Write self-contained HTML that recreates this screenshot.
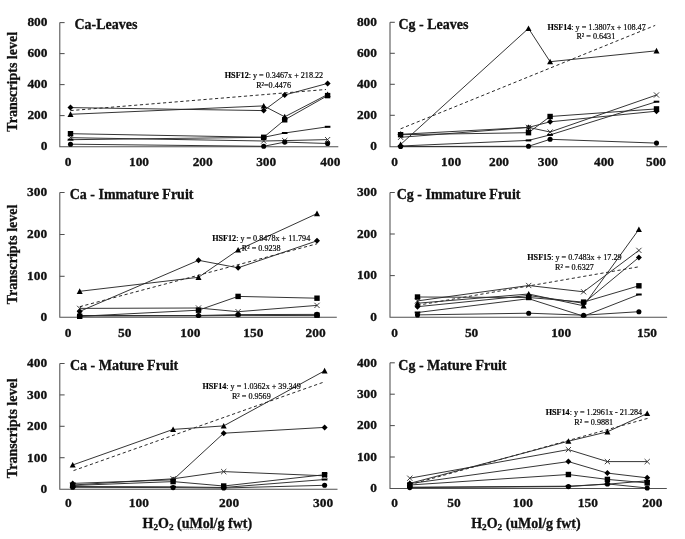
<!DOCTYPE html>
<html><head><meta charset="utf-8"><title>Figure</title>
<style>
html,body{margin:0;padding:0;background:#fff;}
body{width:685px;height:539px;overflow:hidden;}
svg{display:block;}
text{font-family:"Liberation Serif","Times New Roman",serif;fill:#111;}
.b13{font-size:13.4px;font-weight:bold;stroke:#111;stroke-width:0.3px;}
.b14{font-size:14px;font-weight:bold;stroke:#111;stroke-width:0.3px;}
.sub{font-size:9.2px;}
.eq{font-size:8.15px;fill:#000;stroke:#000;stroke-width:0.18px;}
</style></head><body>
<svg width="685" height="539" viewBox="0 0 685 539">
<rect width="685" height="539" fill="#fff"/>
<path d="M59.8 22.6V146.8H338.3" fill="none" stroke="#505050" stroke-width="1.05"/>
<path d="M59.8 22.6h4.8" stroke="#505050" stroke-width="1.05"/>
<path d="M59.8 53.6h4.8" stroke="#505050" stroke-width="1.05"/>
<path d="M59.8 84.6h4.8" stroke="#505050" stroke-width="1.05"/>
<path d="M59.8 115.6h4.8" stroke="#505050" stroke-width="1.05"/>
<text x="47.5" y="26.4" text-anchor="end" class="b13">800</text>
<text x="47.5" y="57.4" text-anchor="end" class="b13">600</text>
<text x="47.5" y="88.4" text-anchor="end" class="b13">400</text>
<text x="47.5" y="119.4" text-anchor="end" class="b13">200</text>
<text x="47.5" y="150.4" text-anchor="end" class="b13">0</text>
<text x="68" y="165.8" text-anchor="middle" class="b13">0</text>
<text x="139" y="165.8" text-anchor="middle" class="b13">100</text>
<text x="202.7" y="165.8" text-anchor="middle" class="b13">200</text>
<text x="266.2" y="165.8" text-anchor="middle" class="b13">300</text>
<text x="330.3" y="165.8" text-anchor="middle" class="b13">400</text>
<text x="74.4" y="29" class="b14">Ca-Leaves</text>
<text transform="translate(16.7 81.8) rotate(-90)" text-anchor="middle" class="b14">Transcripts level</text>
<path d="M70.5 110.6L326 89.5" stroke="#2a2a2a" stroke-width="1" stroke-dasharray="3.2 2.6" fill="none"/>
<polyline points="70.5,107.6 263.7,110.6 284.7,95.0 327.6,83.4" fill="none" stroke="#2a2a2a" stroke-width="0.95"/>
<path d="M70.5 104.6L73.5 107.6L70.5 110.6L67.5 107.6Z" fill="#000"/>
<path d="M263.7 107.6L266.7 110.6L263.7 113.6L260.7 110.6Z" fill="#000"/>
<path d="M284.7 92.0L287.7 95.0L284.7 98.0L281.7 95.0Z" fill="#000"/>
<path d="M327.6 80.4L330.6 83.4L327.6 86.4L324.6 83.4Z" fill="#000"/>
<polyline points="70.5,114.3 263.7,105.9 284.7,116.8 327.6,94.5" fill="none" stroke="#2a2a2a" stroke-width="0.95"/>
<path d="M70.5 111.3L73.5 116.9L67.5 116.9Z" fill="#000"/>
<path d="M263.7 102.9L266.7 108.5L260.7 108.5Z" fill="#000"/>
<path d="M284.7 113.8L287.7 119.4L281.7 119.4Z" fill="#000"/>
<path d="M327.6 91.5L330.6 97.1L324.6 97.1Z" fill="#000"/>
<polyline points="70.5,137.7 263.7,141.0 284.7,140.6 327.6,139.6" fill="none" stroke="#2a2a2a" stroke-width="0.95"/>
<path d="M67.9 135.1L73.1 140.3M67.9 140.3L73.1 135.1" stroke="#2a2a2a" stroke-width="0.9" fill="none"/>
<path d="M261.1 138.4L266.3 143.6M261.1 143.6L266.3 138.4" stroke="#2a2a2a" stroke-width="0.9" fill="none"/>
<path d="M282.1 138.0L287.3 143.2M282.1 143.2L287.3 138.0" stroke="#2a2a2a" stroke-width="0.9" fill="none"/>
<path d="M325.0 137.0L330.2 142.2M325.0 142.2L330.2 137.0" stroke="#2a2a2a" stroke-width="0.9" fill="none"/>
<polyline points="70.5,139.7 263.7,137.3 284.7,133.0 327.6,126.8" fill="none" stroke="#2a2a2a" stroke-width="0.95"/>
<rect x="67.7" y="138.7" width="5.6" height="2" fill="#000"/>
<rect x="260.9" y="136.3" width="5.6" height="2" fill="#000"/>
<rect x="281.9" y="132.0" width="5.6" height="2" fill="#000"/>
<rect x="324.8" y="125.8" width="5.6" height="2" fill="#000"/>
<polyline points="70.5,144.2 263.7,146.3 284.7,142.1 327.6,143.5" fill="none" stroke="#2a2a2a" stroke-width="0.95"/>
<circle cx="70.5" cy="144.2" r="2.55" fill="#000"/>
<circle cx="263.7" cy="146.3" r="2.55" fill="#000"/>
<circle cx="284.7" cy="142.1" r="2.55" fill="#000"/>
<circle cx="327.6" cy="143.5" r="2.55" fill="#000"/>
<polyline points="70.5,133.7 263.7,137.3 284.7,119.8 327.6,95.6" fill="none" stroke="#2a2a2a" stroke-width="0.95"/>
<rect x="67.8" y="131.0" width="5.4" height="5.4" fill="#000"/>
<rect x="261.0" y="134.6" width="5.4" height="5.4" fill="#000"/>
<rect x="282.0" y="117.1" width="5.4" height="5.4" fill="#000"/>
<rect x="324.9" y="92.9" width="5.4" height="5.4" fill="#000"/>
<text x="224.8" y="78.1" class="eq"><tspan font-weight="bold">HSF12</tspan>: y = 0.3467x + 218.22</text>
<text x="256.2" y="88.2" class="eq">R²=0.4476</text>
<path d="M390 22.3V146.8H667.1" fill="none" stroke="#505050" stroke-width="1.05"/>
<path d="M390 22.3h4.8" stroke="#505050" stroke-width="1.05"/>
<path d="M390 53.3h4.8" stroke="#505050" stroke-width="1.05"/>
<path d="M390 84.3h4.8" stroke="#505050" stroke-width="1.05"/>
<path d="M390 115.3h4.8" stroke="#505050" stroke-width="1.05"/>
<text x="377" y="26.1" text-anchor="end" class="b13">800</text>
<text x="377" y="57.1" text-anchor="end" class="b13">600</text>
<text x="377" y="88.1" text-anchor="end" class="b13">400</text>
<text x="377" y="119.1" text-anchor="end" class="b13">200</text>
<text x="377" y="150.4" text-anchor="end" class="b13">0</text>
<text x="394.7" y="166.3" text-anchor="middle" class="b13">0</text>
<text x="451.1" y="166.3" text-anchor="middle" class="b13">100</text>
<text x="499" y="166.3" text-anchor="middle" class="b13">200</text>
<text x="547.9" y="166.3" text-anchor="middle" class="b13">300</text>
<text x="604" y="166.3" text-anchor="middle" class="b13">400</text>
<text x="656" y="166.3" text-anchor="middle" class="b13">500</text>
<text x="398.5" y="28.6" class="b14">Cg - Leaves</text>
<path d="M400.6 128.8L655.2 25.4" stroke="#2a2a2a" stroke-width="1" stroke-dasharray="3.2 2.6" fill="none"/>
<polyline points="400.6,134.3 528.5,127.4 550.1,121.8 656.5,111.2" fill="none" stroke="#2a2a2a" stroke-width="0.95"/>
<path d="M400.6 131.3L403.6 134.3L400.6 137.3L397.6 134.3Z" fill="#000"/>
<path d="M528.5 124.4L531.5 127.4L528.5 130.4L525.5 127.4Z" fill="#000"/>
<path d="M550.1 118.8L553.1 121.8L550.1 124.8L547.1 121.8Z" fill="#000"/>
<path d="M656.5 108.2L659.5 111.2L656.5 114.2L653.5 111.2Z" fill="#000"/>
<polyline points="400.6,144.5 528.5,28.4 550.1,61.7 656.5,50.8" fill="none" stroke="#2a2a2a" stroke-width="0.95"/>
<path d="M400.6 141.5L403.6 147.1L397.6 147.1Z" fill="#000"/>
<path d="M528.5 25.4L531.5 31.0L525.5 31.0Z" fill="#000"/>
<path d="M550.1 58.7L553.1 64.3L547.1 64.3Z" fill="#000"/>
<path d="M656.5 47.8L659.5 53.4L653.5 53.4Z" fill="#000"/>
<polyline points="400.6,137.3 528.5,127.4 550.1,132.0 656.5,95.0" fill="none" stroke="#2a2a2a" stroke-width="0.95"/>
<path d="M398.0 134.7L403.2 139.9M398.0 139.9L403.2 134.7" stroke="#2a2a2a" stroke-width="0.9" fill="none"/>
<path d="M525.9 124.8L531.1 130.0M525.9 130.0L531.1 124.8" stroke="#2a2a2a" stroke-width="0.9" fill="none"/>
<path d="M547.5 129.4L552.7 134.6M547.5 134.6L552.7 129.4" stroke="#2a2a2a" stroke-width="0.9" fill="none"/>
<path d="M653.9 92.4L659.1 97.6M653.9 97.6L659.1 92.4" stroke="#2a2a2a" stroke-width="0.9" fill="none"/>
<polyline points="400.6,146.0 528.5,140.4 550.1,134.9 656.5,101.7" fill="none" stroke="#2a2a2a" stroke-width="0.95"/>
<rect x="397.8" y="145.0" width="5.6" height="2" fill="#000"/>
<rect x="525.7" y="139.4" width="5.6" height="2" fill="#000"/>
<rect x="547.3" y="133.9" width="5.6" height="2" fill="#000"/>
<rect x="653.7" y="100.7" width="5.6" height="2" fill="#000"/>
<polyline points="400.6,146.5 528.5,146.3 550.1,139.3 656.5,143.1" fill="none" stroke="#2a2a2a" stroke-width="0.95"/>
<circle cx="400.6" cy="146.5" r="2.55" fill="#000"/>
<circle cx="528.5" cy="146.3" r="2.55" fill="#000"/>
<circle cx="550.1" cy="139.3" r="2.55" fill="#000"/>
<circle cx="656.5" cy="143.1" r="2.55" fill="#000"/>
<polyline points="400.6,134.7 528.5,132.7 550.1,116.5 656.5,108.9" fill="none" stroke="#2a2a2a" stroke-width="0.95"/>
<rect x="397.9" y="132.0" width="5.4" height="5.4" fill="#000"/>
<rect x="525.8" y="130.0" width="5.4" height="5.4" fill="#000"/>
<rect x="547.4" y="113.8" width="5.4" height="5.4" fill="#000"/>
<rect x="653.8" y="106.2" width="5.4" height="5.4" fill="#000"/>
<text x="547.4" y="29.6" class="eq"><tspan font-weight="bold">HSF14</tspan>: y = 1.3807x + 108.47</text>
<text x="576.4" y="39.4" class="eq">R² = 0.6431</text>
<path d="M59.8 192.5V317.3H336.8" fill="none" stroke="#505050" stroke-width="1.05"/>
<path d="M59.8 192.5h4.8" stroke="#505050" stroke-width="1.05"/>
<path d="M59.8 234.5h4.8" stroke="#505050" stroke-width="1.05"/>
<path d="M59.8 276.3h4.8" stroke="#505050" stroke-width="1.05"/>
<text x="47.2" y="196.3" text-anchor="end" class="b13">300</text>
<text x="47.2" y="238.3" text-anchor="end" class="b13">200</text>
<text x="47.2" y="280.1" text-anchor="end" class="b13">100</text>
<text x="47.2" y="321.2" text-anchor="end" class="b13">0</text>
<text x="68" y="337.2" text-anchor="middle" class="b13">0</text>
<text x="124.7" y="337.2" text-anchor="middle" class="b13">50</text>
<text x="190.4" y="337.2" text-anchor="middle" class="b13">100</text>
<text x="253.3" y="337.2" text-anchor="middle" class="b13">150</text>
<text x="315.6" y="337.2" text-anchor="middle" class="b13">200</text>
<text x="69.7" y="199" class="b14">Ca - Immature Fruit</text>
<text transform="translate(16.7 254.4) rotate(-90)" text-anchor="middle" class="b14">Transcripts level</text>
<path d="M79.7 306.7L317 243.8" stroke="#2a2a2a" stroke-width="1" stroke-dasharray="3.2 2.6" fill="none"/>
<polyline points="79.7,311.4 198.5,260.3 238.1,267.8 317.0,240.8" fill="none" stroke="#2a2a2a" stroke-width="0.95"/>
<path d="M79.7 308.4L82.7 311.4L79.7 314.4L76.7 311.4Z" fill="#000"/>
<path d="M198.5 257.3L201.5 260.3L198.5 263.3L195.5 260.3Z" fill="#000"/>
<path d="M238.1 264.8L241.1 267.8L238.1 270.8L235.1 267.8Z" fill="#000"/>
<path d="M317.0 237.8L320.0 240.8L317.0 243.8L314.0 240.8Z" fill="#000"/>
<polyline points="79.7,291.3 198.5,277.3 238.1,250.0 317.0,213.6" fill="none" stroke="#2a2a2a" stroke-width="0.95"/>
<path d="M79.7 288.3L82.7 293.9L76.7 293.9Z" fill="#000"/>
<path d="M198.5 274.3L201.5 279.9L195.5 279.9Z" fill="#000"/>
<path d="M238.1 247.0L241.1 252.6L235.1 252.6Z" fill="#000"/>
<path d="M317.0 210.6L320.0 216.2L314.0 216.2Z" fill="#000"/>
<polyline points="79.7,308.4 198.5,308.0 238.1,311.7 317.0,305.4" fill="none" stroke="#2a2a2a" stroke-width="0.95"/>
<path d="M77.1 305.8L82.3 311.0M77.1 311.0L82.3 305.8" stroke="#2a2a2a" stroke-width="0.9" fill="none"/>
<path d="M195.9 305.4L201.1 310.6M195.9 310.6L201.1 305.4" stroke="#2a2a2a" stroke-width="0.9" fill="none"/>
<path d="M235.5 309.1L240.7 314.3M235.5 314.3L240.7 309.1" stroke="#2a2a2a" stroke-width="0.9" fill="none"/>
<path d="M314.4 302.8L319.6 308.0M314.4 308.0L319.6 302.8" stroke="#2a2a2a" stroke-width="0.9" fill="none"/>
<polyline points="79.7,316.0 198.5,315.8 238.1,315.4 317.0,315.6" fill="none" stroke="#2a2a2a" stroke-width="0.95"/>
<rect x="76.9" y="315.0" width="5.6" height="2" fill="#000"/>
<rect x="195.7" y="314.8" width="5.6" height="2" fill="#000"/>
<rect x="235.3" y="314.4" width="5.6" height="2" fill="#000"/>
<rect x="314.2" y="314.6" width="5.6" height="2" fill="#000"/>
<polyline points="79.7,315.5 198.5,315.5 238.1,314.6 317.0,314.4" fill="none" stroke="#2a2a2a" stroke-width="0.95"/>
<circle cx="79.7" cy="315.5" r="2.55" fill="#000"/>
<circle cx="198.5" cy="315.5" r="2.55" fill="#000"/>
<circle cx="238.1" cy="314.6" r="2.55" fill="#000"/>
<circle cx="317.0" cy="314.4" r="2.55" fill="#000"/>
<polyline points="79.7,316.3 198.5,310.2 238.1,296.4 317.0,298.2" fill="none" stroke="#2a2a2a" stroke-width="0.95"/>
<rect x="77.0" y="313.6" width="5.4" height="5.4" fill="#000"/>
<rect x="195.8" y="307.5" width="5.4" height="5.4" fill="#000"/>
<rect x="235.4" y="293.7" width="5.4" height="5.4" fill="#000"/>
<rect x="314.3" y="295.5" width="5.4" height="5.4" fill="#000"/>
<rect x="314.3" y="312.5" width="5.4" height="5.4" fill="#000"/>
<text x="212.2" y="240.6" class="eq"><tspan font-weight="bold">HSF12</tspan>: y = 0.8478x + 11.794</text>
<text x="241.8" y="250.8" class="eq">R² = 0.9238</text>
<path d="M390 192.5V317.3H667.1" fill="none" stroke="#505050" stroke-width="1.05"/>
<path d="M390 192.5h4.8" stroke="#505050" stroke-width="1.05"/>
<path d="M390 234.0h4.8" stroke="#505050" stroke-width="1.05"/>
<path d="M390 275.6h4.8" stroke="#505050" stroke-width="1.05"/>
<text x="377" y="196.3" text-anchor="end" class="b13">300</text>
<text x="377" y="237.8" text-anchor="end" class="b13">200</text>
<text x="377" y="279.4" text-anchor="end" class="b13">100</text>
<text x="377" y="321.0" text-anchor="end" class="b13">0</text>
<text x="394.7" y="336.5" text-anchor="middle" class="b13">0</text>
<text x="471.6" y="336.5" text-anchor="middle" class="b13">50</text>
<text x="561.2" y="336.5" text-anchor="middle" class="b13">100</text>
<text x="647" y="336.5" text-anchor="middle" class="b13">150</text>
<text x="396.7" y="198.7" class="b14">Cg - Immature Fruit</text>
<path d="M417.5 305.3L640 266.6" stroke="#2a2a2a" stroke-width="1" stroke-dasharray="3.2 2.6" fill="none"/>
<polyline points="417.5,306.7 528.7,295.5 583.6,303.2 638.9,257.4" fill="none" stroke="#2a2a2a" stroke-width="0.95"/>
<path d="M417.5 303.7L420.5 306.7L417.5 309.7L414.5 306.7Z" fill="#000"/>
<path d="M528.7 292.5L531.7 295.5L528.7 298.5L525.7 295.5Z" fill="#000"/>
<path d="M583.6 300.2L586.6 303.2L583.6 306.2L580.6 303.2Z" fill="#000"/>
<path d="M638.9 254.4L641.9 257.4L638.9 260.4L635.9 257.4Z" fill="#000"/>
<polyline points="417.5,303.2 528.7,294.0 583.6,305.8 638.9,229.4" fill="none" stroke="#2a2a2a" stroke-width="0.95"/>
<path d="M417.5 300.2L420.5 305.8L414.5 305.8Z" fill="#000"/>
<path d="M528.7 291.0L531.7 296.6L525.7 296.6Z" fill="#000"/>
<path d="M583.6 302.8L586.6 308.4L580.6 308.4Z" fill="#000"/>
<path d="M638.9 226.4L641.9 232.0L635.9 232.0Z" fill="#000"/>
<polyline points="417.5,300.9 528.7,285.5 583.6,291.8 638.9,250.4" fill="none" stroke="#2a2a2a" stroke-width="0.95"/>
<path d="M414.9 298.3L420.1 303.5M414.9 303.5L420.1 298.3" stroke="#2a2a2a" stroke-width="0.9" fill="none"/>
<path d="M526.1 282.9L531.3 288.1M526.1 288.1L531.3 282.9" stroke="#2a2a2a" stroke-width="0.9" fill="none"/>
<path d="M581.0 289.2L586.2 294.4M581.0 294.4L586.2 289.2" stroke="#2a2a2a" stroke-width="0.9" fill="none"/>
<path d="M636.3 247.8L641.5 253.0M636.3 253.0L641.5 247.8" stroke="#2a2a2a" stroke-width="0.9" fill="none"/>
<polyline points="417.5,312.5 528.7,298.7 583.6,316.2 638.9,294.5" fill="none" stroke="#2a2a2a" stroke-width="0.95"/>
<rect x="414.7" y="311.5" width="5.6" height="2" fill="#000"/>
<rect x="525.9" y="297.7" width="5.6" height="2" fill="#000"/>
<rect x="580.8" y="315.2" width="5.6" height="2" fill="#000"/>
<rect x="636.1" y="293.5" width="5.6" height="2" fill="#000"/>
<polyline points="417.5,314.9 528.7,313.2 583.6,315.2 638.9,311.7" fill="none" stroke="#2a2a2a" stroke-width="0.95"/>
<circle cx="417.5" cy="314.9" r="2.55" fill="#000"/>
<circle cx="528.7" cy="313.2" r="2.55" fill="#000"/>
<circle cx="583.6" cy="315.2" r="2.55" fill="#000"/>
<circle cx="638.9" cy="311.7" r="2.55" fill="#000"/>
<polyline points="417.5,297.0 528.7,297.5 583.6,302.1 638.9,285.8" fill="none" stroke="#2a2a2a" stroke-width="0.95"/>
<rect x="414.8" y="294.3" width="5.4" height="5.4" fill="#000"/>
<rect x="526.0" y="294.8" width="5.4" height="5.4" fill="#000"/>
<rect x="580.9" y="299.4" width="5.4" height="5.4" fill="#000"/>
<rect x="636.2" y="283.1" width="5.4" height="5.4" fill="#000"/>
<text x="527.3" y="260.1" class="eq"><tspan font-weight="bold">HSF15</tspan>: y = 0.7483x + 17.29</text>
<text x="555" y="270" class="eq">R² = 0.6327</text>
<path d="M59.8 363.5V489.2H337.5" fill="none" stroke="#505050" stroke-width="1.05"/>
<path d="M59.8 363.5h4.8" stroke="#505050" stroke-width="1.05"/>
<path d="M59.8 394.9h4.8" stroke="#505050" stroke-width="1.05"/>
<path d="M59.8 426.3h4.8" stroke="#505050" stroke-width="1.05"/>
<path d="M59.8 457.7h4.8" stroke="#505050" stroke-width="1.05"/>
<text x="47.2" y="367.3" text-anchor="end" class="b13">400</text>
<text x="47.2" y="398.7" text-anchor="end" class="b13">300</text>
<text x="47.2" y="430.1" text-anchor="end" class="b13">200</text>
<text x="47.2" y="461.5" text-anchor="end" class="b13">100</text>
<text x="47.2" y="492.9" text-anchor="end" class="b13">0</text>
<text x="68.3" y="507.3" text-anchor="middle" class="b13">0</text>
<text x="138.9" y="507.3" text-anchor="middle" class="b13">100</text>
<text x="229.1" y="507.3" text-anchor="middle" class="b13">200</text>
<text x="323.1" y="507.3" text-anchor="middle" class="b13">300</text>
<text x="70" y="370.1" class="b14">Ca - Mature Fruit</text>
<text transform="translate(16.7 428.3) rotate(-90)" text-anchor="middle" class="b14">Transcripts level</text>
<path d="M73.5 470.6L324.9 381.7" stroke="#2a2a2a" stroke-width="1" stroke-dasharray="3.2 2.6" fill="none"/>
<polyline points="72.7,483.4 173.1,479.8 223.7,433.2 324.6,427.4" fill="none" stroke="#2a2a2a" stroke-width="0.95"/>
<path d="M72.7 480.4L75.7 483.4L72.7 486.4L69.7 483.4Z" fill="#000"/>
<path d="M173.1 476.8L176.1 479.8L173.1 482.8L170.1 479.8Z" fill="#000"/>
<path d="M223.7 430.2L226.7 433.2L223.7 436.2L220.7 433.2Z" fill="#000"/>
<path d="M324.6 424.4L327.6 427.4L324.6 430.4L321.6 427.4Z" fill="#000"/>
<polyline points="72.7,465.0 173.1,429.4 223.7,425.9 324.6,370.8" fill="none" stroke="#2a2a2a" stroke-width="0.95"/>
<path d="M72.7 462.0L75.7 467.6L69.7 467.6Z" fill="#000"/>
<path d="M173.1 426.4L176.1 432.0L170.1 432.0Z" fill="#000"/>
<path d="M223.7 422.9L226.7 428.5L220.7 428.5Z" fill="#000"/>
<path d="M324.6 367.8L327.6 373.4L321.6 373.4Z" fill="#000"/>
<polyline points="72.7,485.0 173.1,478.8 223.7,471.6 324.6,475.8" fill="none" stroke="#2a2a2a" stroke-width="0.95"/>
<path d="M70.1 482.4L75.3 487.6M70.1 487.6L75.3 482.4" stroke="#2a2a2a" stroke-width="0.9" fill="none"/>
<path d="M170.5 476.2L175.7 481.4M170.5 481.4L175.7 476.2" stroke="#2a2a2a" stroke-width="0.9" fill="none"/>
<path d="M221.1 469.0L226.3 474.2M221.1 474.2L226.3 469.0" stroke="#2a2a2a" stroke-width="0.9" fill="none"/>
<path d="M322.0 473.2L327.2 478.4M322.0 478.4L327.2 473.2" stroke="#2a2a2a" stroke-width="0.9" fill="none"/>
<polyline points="72.7,486.5 173.1,486.8 223.7,487.5 324.6,479.5" fill="none" stroke="#2a2a2a" stroke-width="0.95"/>
<rect x="69.9" y="485.5" width="5.6" height="2" fill="#000"/>
<rect x="170.3" y="485.8" width="5.6" height="2" fill="#000"/>
<rect x="220.9" y="486.5" width="5.6" height="2" fill="#000"/>
<rect x="321.8" y="478.5" width="5.6" height="2" fill="#000"/>
<polyline points="72.7,487.3 173.1,487.6 223.7,488.0 324.6,485.3" fill="none" stroke="#2a2a2a" stroke-width="0.95"/>
<circle cx="72.7" cy="487.3" r="2.55" fill="#000"/>
<circle cx="173.1" cy="487.6" r="2.55" fill="#000"/>
<circle cx="223.7" cy="488.0" r="2.55" fill="#000"/>
<circle cx="324.6" cy="485.3" r="2.55" fill="#000"/>
<polyline points="72.7,485.5 173.1,481.6 223.7,486.0 324.6,474.7" fill="none" stroke="#2a2a2a" stroke-width="0.95"/>
<rect x="70.0" y="482.8" width="5.4" height="5.4" fill="#000"/>
<rect x="170.4" y="478.9" width="5.4" height="5.4" fill="#000"/>
<rect x="221.0" y="483.3" width="5.4" height="5.4" fill="#000"/>
<rect x="321.9" y="472.0" width="5.4" height="5.4" fill="#000"/>
<text x="202.4" y="389" class="eq"><tspan font-weight="bold">HSF14</tspan>: y = 1.0362x + 39.349</text>
<text x="231.9" y="399" class="eq">R² = 0.9569</text>
<path d="M390 362.8V488.4H666.8" fill="none" stroke="#505050" stroke-width="1.05"/>
<path d="M390 362.8h4.8" stroke="#505050" stroke-width="1.05"/>
<path d="M390 394.2h4.8" stroke="#505050" stroke-width="1.05"/>
<path d="M390 425.6h4.8" stroke="#505050" stroke-width="1.05"/>
<path d="M390 457.0h4.8" stroke="#505050" stroke-width="1.05"/>
<text x="377" y="366.6" text-anchor="end" class="b13">400</text>
<text x="377" y="398.0" text-anchor="end" class="b13">300</text>
<text x="377" y="429.4" text-anchor="end" class="b13">200</text>
<text x="377" y="460.8" text-anchor="end" class="b13">100</text>
<text x="377" y="492.2" text-anchor="end" class="b13">0</text>
<text x="394.7" y="507.3" text-anchor="middle" class="b13">0</text>
<text x="454" y="507.3" text-anchor="middle" class="b13">50</text>
<text x="522.8" y="507.3" text-anchor="middle" class="b13">100</text>
<text x="587.9" y="507.3" text-anchor="middle" class="b13">150</text>
<text x="652.3" y="507.3" text-anchor="middle" class="b13">200</text>
<text x="398.3" y="369.8" class="b14">Cg - Mature Fruit</text>
<path d="M409.8 484.7L649 418" stroke="#2a2a2a" stroke-width="1" stroke-dasharray="3.2 2.6" fill="none"/>
<polyline points="409.8,483.6 568.4,461.6 607.4,473.1 647.2,477.8" fill="none" stroke="#2a2a2a" stroke-width="0.95"/>
<path d="M409.8 480.6L412.8 483.6L409.8 486.6L406.8 483.6Z" fill="#000"/>
<path d="M568.4 458.6L571.4 461.6L568.4 464.6L565.4 461.6Z" fill="#000"/>
<path d="M607.4 470.1L610.4 473.1L607.4 476.1L604.4 473.1Z" fill="#000"/>
<path d="M647.2 474.8L650.2 477.8L647.2 480.8L644.2 477.8Z" fill="#000"/>
<polyline points="409.8,483.4 568.4,441.2 607.4,431.8 647.2,413.5" fill="none" stroke="#2a2a2a" stroke-width="0.95"/>
<path d="M409.8 480.4L412.8 486.0L406.8 486.0Z" fill="#000"/>
<path d="M568.4 438.2L571.4 443.8L565.4 443.8Z" fill="#000"/>
<path d="M607.4 428.8L610.4 434.4L604.4 434.4Z" fill="#000"/>
<path d="M647.2 410.5L650.2 416.1L644.2 416.1Z" fill="#000"/>
<polyline points="409.8,478.2 568.4,449.6 607.4,461.6 647.2,461.6" fill="none" stroke="#2a2a2a" stroke-width="0.95"/>
<path d="M407.2 475.6L412.4 480.8M407.2 480.8L412.4 475.6" stroke="#2a2a2a" stroke-width="0.9" fill="none"/>
<path d="M565.8 447.0L571.0 452.2M565.8 452.2L571.0 447.0" stroke="#2a2a2a" stroke-width="0.9" fill="none"/>
<path d="M604.8 459.0L610.0 464.2M604.8 464.2L610.0 459.0" stroke="#2a2a2a" stroke-width="0.9" fill="none"/>
<path d="M644.6 459.0L649.8 464.2M644.6 464.2L649.8 459.0" stroke="#2a2a2a" stroke-width="0.9" fill="none"/>
<polyline points="409.8,487.2 568.4,486.2 607.4,484.2 647.2,480.8" fill="none" stroke="#2a2a2a" stroke-width="0.95"/>
<rect x="407.0" y="486.2" width="5.6" height="2" fill="#000"/>
<rect x="565.6" y="485.2" width="5.6" height="2" fill="#000"/>
<rect x="604.6" y="483.2" width="5.6" height="2" fill="#000"/>
<rect x="644.4" y="479.8" width="5.6" height="2" fill="#000"/>
<polyline points="409.8,487.6 568.4,486.6 607.4,483.9 647.2,488.0" fill="none" stroke="#2a2a2a" stroke-width="0.95"/>
<circle cx="409.8" cy="487.6" r="2.55" fill="#000"/>
<circle cx="568.4" cy="486.6" r="2.55" fill="#000"/>
<circle cx="607.4" cy="483.9" r="2.55" fill="#000"/>
<circle cx="647.2" cy="488.0" r="2.55" fill="#000"/>
<polyline points="409.8,485.0 568.4,474.5 607.4,479.4 647.2,482.9" fill="none" stroke="#2a2a2a" stroke-width="0.95"/>
<rect x="407.1" y="482.3" width="5.4" height="5.4" fill="#000"/>
<rect x="565.7" y="471.8" width="5.4" height="5.4" fill="#000"/>
<rect x="604.7" y="476.7" width="5.4" height="5.4" fill="#000"/>
<rect x="644.5" y="480.2" width="5.4" height="5.4" fill="#000"/>
<text x="545.7" y="415" class="eq"><tspan font-weight="bold">HSF14</tspan>: y = 1.2961x - 21.284</text>
<text x="574.3" y="424.6" class="eq">R² = 0.9881</text>
<text x="142.6" y="527.7" class="b14">H<tspan class="sub" dy="2.6">2</tspan><tspan dy="-2.6">O</tspan><tspan class="sub" dy="2.6">2</tspan><tspan dy="-2.6"> (uMol/g fwt)</tspan></text>
<text x="471.2" y="527.6" class="b14">H<tspan class="sub" dy="2.6">2</tspan><tspan dy="-2.6">O</tspan><tspan class="sub" dy="2.6">2</tspan><tspan dy="-2.6"> (uMol/g fwt)</tspan></text>
<path d="M181.2 529.4H214.6" stroke="#9a9a9a" stroke-width="0.9" stroke-dasharray="1.2 1"/>
<path d="M229.1 529.4H247.5" stroke="#9a9a9a" stroke-width="0.9" stroke-dasharray="1.2 1"/>
<path d="M509.8 529.3H543.2" stroke="#9a9a9a" stroke-width="0.9" stroke-dasharray="1.2 1"/>
<path d="M557.7 529.3H576.1" stroke="#9a9a9a" stroke-width="0.9" stroke-dasharray="1.2 1"/>
</svg>
</body></html>
